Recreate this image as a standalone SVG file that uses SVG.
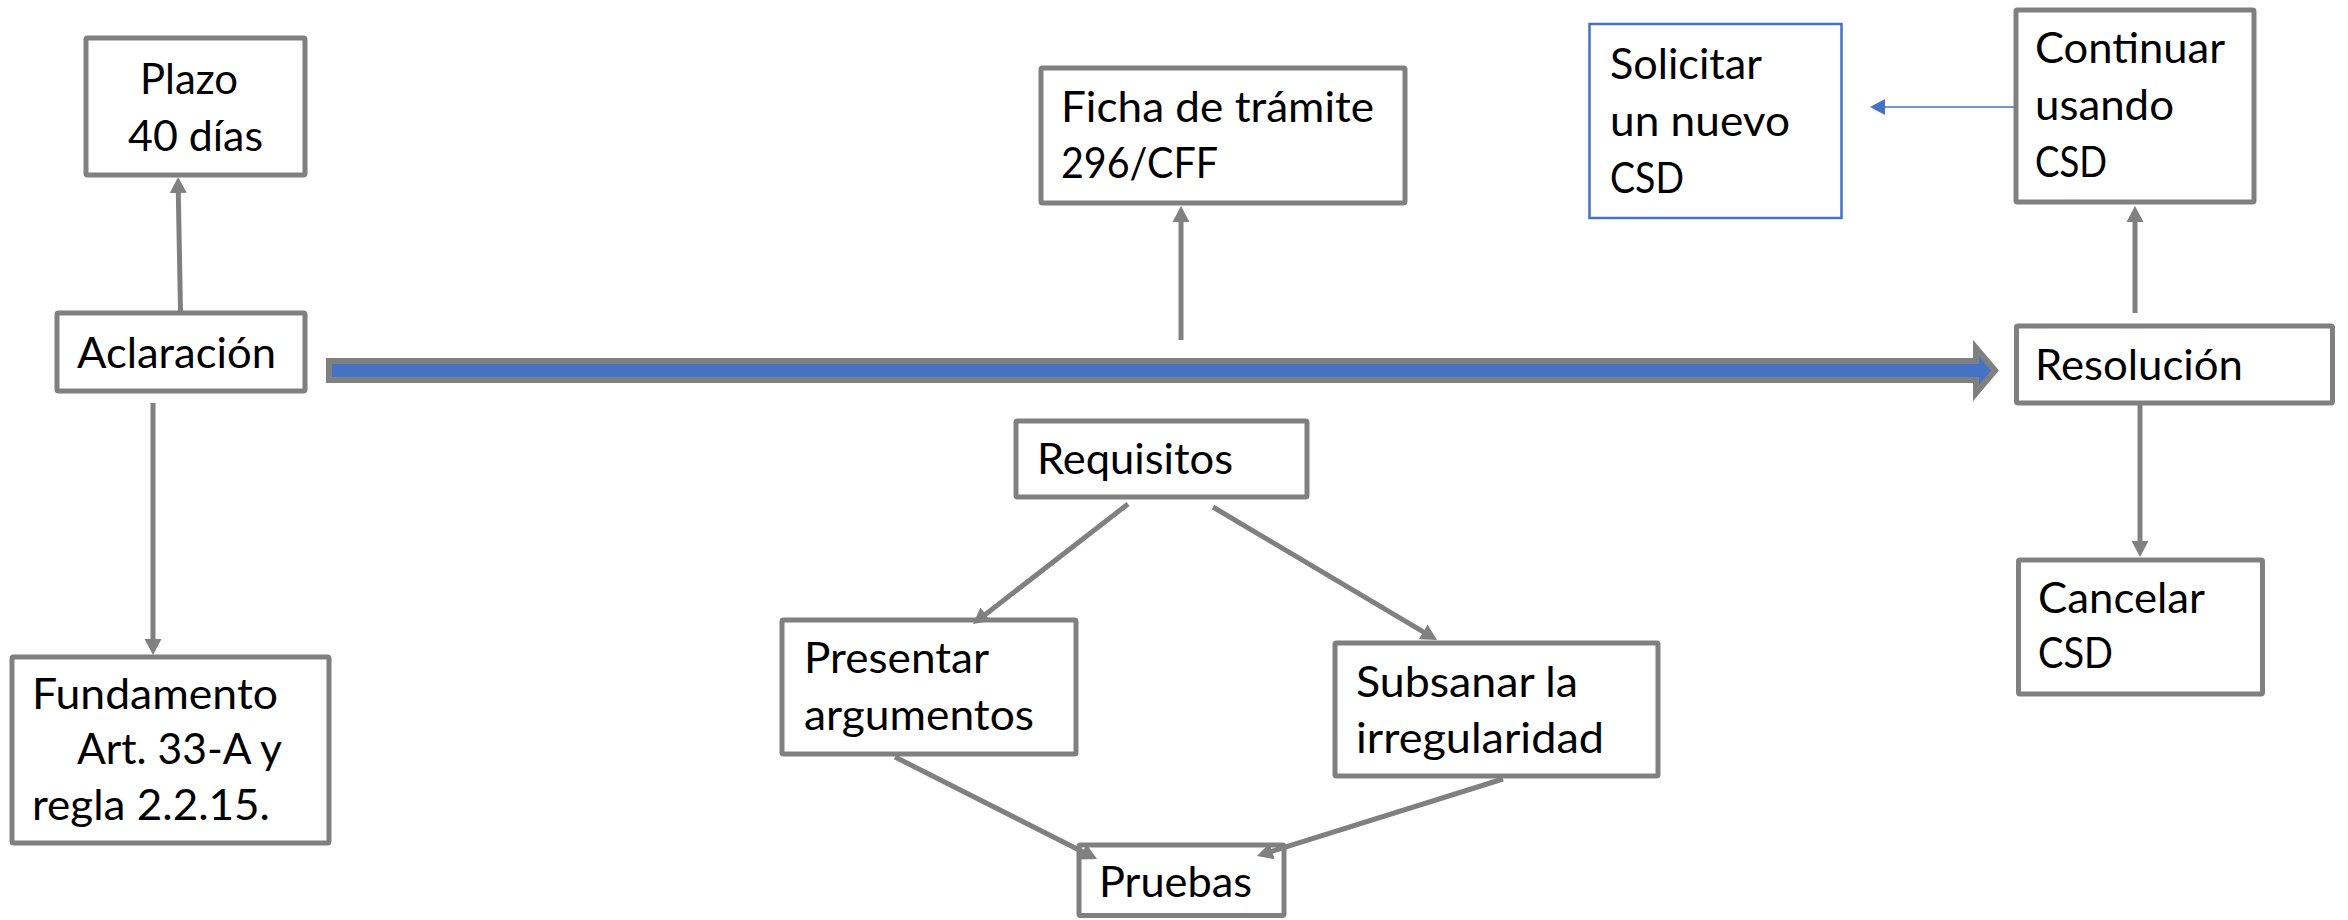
<svg xmlns="http://www.w3.org/2000/svg" width="2348" height="920" viewBox="0 0 2348 920">
  <style>
    .box { fill: #ffffff; stroke: #808080; stroke-width: 5; }
    .bbox { fill: #ffffff; stroke: #4472C4; stroke-width: 2.5; }
    .t { font-family: Lato, "Liberation Sans", sans-serif; font-size: 43px; fill: #000000; }
    .conn { stroke: #808080; stroke-width: 5; fill: none; marker-end: url(#ah); }
    .connb { stroke: #4472C4; stroke-width: 1.6; fill: none; marker-end: url(#ahb); }
    .main { fill: #4472C4; stroke: #808080; stroke-width: 6; stroke-linejoin: miter; }
  </style>
  <defs>
    <marker id="ah" markerUnits="userSpaceOnUse" markerWidth="17" markerHeight="18" refX="6" refY="8.5" orient="auto" viewBox="0 0 17 17">
      <path d="M0,0 L16,8.5 L0,17 z" fill="#808080"/>
    </marker>
    <marker id="ahb" markerUnits="userSpaceOnUse" markerWidth="16" markerHeight="17" refX="5" refY="8" orient="auto" viewBox="0 0 16 16">
      <path d="M0,0 L15,8 L0,16 z" fill="#4472C4"/>
    </marker>
  </defs>
  <rect x="0" y="0" width="2348" height="920" fill="#ffffff"/>

  <g id="plazo">
    <rect class="box" x="86" y="38" width="219" height="137" rx="1.5"/>
    <text class="t" x="140" y="94" textLength="98" lengthAdjust="spacingAndGlyphs">Plazo</text>
    <text class="t" x="128" y="151" textLength="135" lengthAdjust="spacingAndGlyphs">40 días</text>
  </g>

  <g id="aclaracion">
    <rect class="box" x="57" y="313" width="248" height="78" rx="1.5"/>
    <text class="t" x="77" y="368" textLength="199" lengthAdjust="spacingAndGlyphs">Aclaración</text>
  </g>

  <g id="fundamento">
    <rect class="box" x="12" y="657" width="317" height="186" rx="1.5"/>
    <text class="t" x="32" y="709" textLength="246" lengthAdjust="spacingAndGlyphs">Fundamento</text>
    <text class="t" x="77" y="764" textLength="205" lengthAdjust="spacingAndGlyphs">Art. 33-A y</text>
    <text class="t" x="32" y="820" textLength="238" lengthAdjust="spacingAndGlyphs">regla 2.2.15.</text>
  </g>

  <g id="ficha">
    <rect class="box" x="1041" y="68" width="364" height="135" rx="1.5"/>
    <text class="t" x="1061" y="122" textLength="313" lengthAdjust="spacingAndGlyphs">Ficha de trámite</text>
    <text class="t" x="1061" y="178" textLength="157" lengthAdjust="spacingAndGlyphs">296/CFF</text>
  </g>

  <g id="requisitos">
    <rect class="box" x="1016" y="421" width="291" height="76" rx="1.5"/>
    <text class="t" x="1037" y="474" textLength="196" lengthAdjust="spacingAndGlyphs">Requisitos</text>
  </g>

  <g id="presentar">
    <rect class="box" x="782" y="620" width="294" height="134" rx="1.5"/>
    <text class="t" x="804" y="673" textLength="185" lengthAdjust="spacingAndGlyphs">Presentar</text>
    <text class="t" x="804" y="730" textLength="230" lengthAdjust="spacingAndGlyphs">argumentos</text>
  </g>

  <g id="subsanar">
    <rect class="box" x="1335" y="643" width="323" height="133" rx="1.5"/>
    <text class="t" x="1356" y="697" textLength="222" lengthAdjust="spacingAndGlyphs">Subsanar la</text>
    <text class="t" x="1356" y="753" textLength="248" lengthAdjust="spacingAndGlyphs">irregularidad</text>
  </g>

  <g id="pruebas">
    <rect class="box" x="1079" y="845" width="205" height="70.5" rx="1.5"/>
    <text class="t" x="1099" y="897" textLength="153" lengthAdjust="spacingAndGlyphs">Pruebas</text>
  </g>

  <g id="solicitar">
    <rect class="bbox" x="1589.5" y="24" width="252" height="194"/>
    <text class="t" x="1610" y="79" textLength="152" lengthAdjust="spacingAndGlyphs">Solicitar</text>
    <text class="t" x="1610" y="136" textLength="180" lengthAdjust="spacingAndGlyphs">un nuevo</text>
    <text class="t" x="1610" y="193" textLength="74" lengthAdjust="spacingAndGlyphs">CSD</text>
  </g>

  <g id="continuar">
    <rect class="box" x="2016" y="10" width="238" height="192" rx="1.5"/>
    <text class="t" x="2035" y="63" textLength="190" lengthAdjust="spacingAndGlyphs">Continuar</text>
    <text class="t" x="2035" y="120" textLength="139" lengthAdjust="spacingAndGlyphs">usando</text>
    <text class="t" x="2035" y="177" textLength="72" lengthAdjust="spacingAndGlyphs">CSD</text>
  </g>

  <g id="resolucion">
    <rect class="box" x="2016.5" y="326" width="316" height="77" rx="1.5"/>
    <text class="t" x="2035" y="380" textLength="208" lengthAdjust="spacingAndGlyphs">Resolución</text>
  </g>

  <g id="cancelar">
    <rect class="box" x="2018.5" y="560" width="244" height="134" rx="1.5"/>
    <text class="t" x="2038" y="613" textLength="167" lengthAdjust="spacingAndGlyphs">Cancelar</text>
    <text class="t" x="2038" y="668" textLength="75" lengthAdjust="spacingAndGlyphs">CSD</text>
  </g>

  <g id="connectors">
    <polygon class="main" points="329,361 1976,361 1976,348 1995,370.5 1976,393 1976,380 329,380"/>
    <line class="conn" x1="180.5" y1="311" x2="178.2" y2="187"/>
    <line class="conn" x1="153" y1="403" x2="153" y2="645"/>
    <line class="conn" x1="1181" y1="340" x2="1181" y2="216"/>
    <line class="conn" x1="1128" y1="504" x2="980.9" y2="617.9"/>
    <line class="conn" x1="1213" y1="507" x2="1428.4" y2="634.9"/>
    <line class="conn" x1="895" y1="757" x2="1088.1" y2="854.5"/>
    <line class="conn" x1="1503" y1="779" x2="1266.5" y2="853"/>
    <line class="conn" x1="2135" y1="313" x2="2135" y2="216"/>
    <line class="conn" x1="2140" y1="405" x2="2140" y2="547"/>
    <line class="connb" x1="2014" y1="107" x2="1880" y2="107"/>
  </g>
</svg>
